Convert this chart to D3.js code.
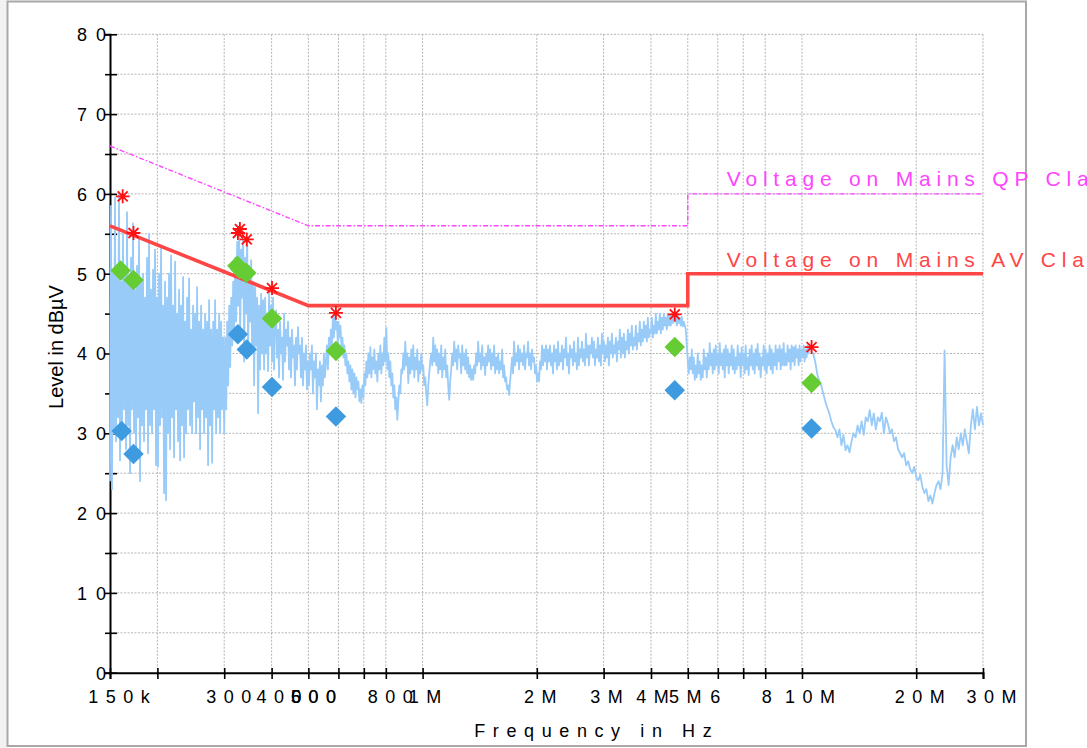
<!DOCTYPE html>
<html>
<head>
<meta charset="utf-8">
<script src="https://cdn.jsdelivr.net/npm/d3@7/dist/d3.min.js"></script>
<style>
  html, body { margin: 0; padding: 0; background: #ffffff; }
  svg { display: block; }
  text { font-family: "Liberation Sans", Arial, sans-serif; }
</style>
</head>
<body>
<svg id="chart" width="1087" height="748"></svg>
<script>
// ---- Axis ticks ----
const xTickValues = [150e3, 200e3, 300e3, 400e3, 500e3, 600e3, 700e3, 800e3, 1e6, 2e6, 3e6, 4e6, 5e6, 6e6, 7e6, 8e6, 10e6, 20e6, 30e6];
const xTickLabels = ["150k", "", "300", "400", "500", "600", "", "800", "1M", "2M", "3M", "4M", "5M", "6", "", "8", "10M", "20M", "30M"];
const yMajorTicks = [0, 10, 20, 30, 40, 50, 60, 70, 80];
const yTickLabels = ["0", "10", "20", "30", "40", "50", "60", "70", "80"];
const yMinorTicks = [5, 15, 25, 35, 45, 55, 65, 75];

// ---- Limit lines (dBµV) ----
const limitFreq = [150e3, 500e3, 5e6, 5e6, 30e6];
const qpLimitLevel = [66, 56, 56, 60, 60];
const avLimitLevel = [56, 46, 46, 50, 50];

// ---- Final measurement markers ----
const peakFreq  = [162e3, 173e3, 326e3, 330e3, 344e3, 401e3, 591e3, 4.62e6, 10.6e6];
const peakLevel = [59.7, 55.1, 55.1, 55.6, 54.3, 48.2, 45.1, 44.9, 40.8];
const qpFreq    = [160e3, 173e3, 325e3, 330e3, 343e3, 401e3, 591e3, 4.62e6, 10.6e6];
const qpLevel   = [50.4, 49.2, 51.0, 50.6, 50.1, 44.4, 40.3, 40.8, 36.3];
const avFreq    = [161e3, 173e3, 326e3, 344e3, 401e3, 591e3, 4.62e6, 10.6e6];
const avLevel   = [30.3, 27.4, 42.4, 40.5, 35.8, 32.1, 35.4, 30.6];

// ---- Pre-scan sweep: band edges (Hz) and readings (dBµV) per band ----
const sweepBands = [[150e3, 298e3], [300e3, 598e3], [600e3, 4.88e6], [4.94e6, 10.6e6], [10.7e6, 30e6]];
const sweepLevelsBand1 = [
  24, 58.5, 23, 50, 30, 59.5, 29, 51, 32, 60, 26.6, 49, 31, 55, 33, 50, 28, 57.7, 31, 49,
  25, 52, 33, 56.3, 30, 48, 27, 51, 32, 54.6, 24, 49, 31, 50, 29, 47, 33, 52, 27.5, 55,
  31, 48, 30, 50.5, 33, 53, 26, 47, 25.8, 50, 31, 53.2, 32, 46, 22.5, 49, 21.6, 47, 30, 50,
  28, 52.3, 32, 46, 27, 51.5, 33, 45, 29, 48, 26.6, 46, 31, 49.6, 27, 44, 30, 47, 33, 49.4,
  31, 43, 30, 46, 34, 45, 30, 48.3, 32, 44, 28, 46, 33, 43, 30, 45, 32, 44, 26, 46.7,
  31, 43, 26.3, 44, 33, 46.7, 30, 43, 32, 45, 30, 44, 33, 42
];
const sweepLevelsBand2 = [
  30, 42, 33, 44, 36, 46, 38.3, 47, 41, 49, 43, 52, 44, 54, 46, 55.5, 42, 53, 47, 55,
  39, 52, 45, 54.5, 40, 51, 44, 51.7, 40.4, 49, 36, 48.3, 41, 47, 32.5, 46, 38, 47.5, 40, 46.7,
  38, 47, 40, 45, 37.8, 48, 41, 46, 39, 47, 38, 44, 45.4, 39.5, 43, 37, 44, 40, 42, 36.7,
  45, 39, 43, 41, 44, 38, 42, 37, 43, 39.5, 41, 36, 42, 38, 43.3, 40, 41, 37, 42, 36,
  40, 38, 41, 35.5, 39, 36, 40, 38, 41, 35, 39, 37, 40, 33, 38, 36, 39, 34, 38.5, 36,
  40, 37, 39, 41, 38, 42, 40, 43, 41, 44.5, 42, 45, 43, 44, 41
];
const sweepLevelsBand3 = [
  44, 42, 43.5, 41, 42, 39.5, 41, 38.5, 40, 37.5, 39, 36.5, 38.5, 35.5, 38, 35, 37.5, 34.5, 37, 35.5,
  36.5, 34, 35.5, 33.8, 36, 34.5, 37.5, 36, 39, 37, 40, 37.5, 40.8, 37, 39.5, 38, 40.5, 37.5, 39, 36.5,
  40, 38, 41, 37.5, 40, 38.5, 42, 39, 43.2, 38, 40, 37, 39, 36, 37.5, 34.5, 36, 33, 34.5, 31.7,
  34, 36, 35, 38, 37.5, 40, 38, 41.5, 38.5, 40, 36.3, 39.5, 37.5, 40.5, 38, 41, 37, 39.5, 38, 40.5,
  36.5, 39, 37.5, 40, 38, 38.5, 36, 37, 35, 33.5, 36, 37.5, 39, 40, 38.5, 42, 39, 41, 38.5, 40.5,
  37.5, 40, 38, 41, 37, 39.5, 38, 40.5, 37, 38.5, 36, 34.2, 36.5, 38, 40, 38.5, 41.5, 39, 40.5, 38,
  41, 39.5, 40, 37.5, 41, 38.5, 40, 38, 40.5, 37.5, 39.5, 37, 38.5, 36.7, 38, 36.7, 38.5, 37.5, 40, 38.5,
  41.5, 39, 40, 38, 41, 38.5, 39.5, 37.3, 40, 38.5, 41, 39, 40.5, 38, 40, 38.5, 41, 37.5, 39.5, 38,
  40, 37.5, 39, 38, 40.5, 37, 38.5, 36.5, 37, 35.5, 36, 34.8, 36.5, 38, 39.5, 37.5, 41.5, 38.5, 40, 39,
  41, 38, 40.5, 39, 40, 38.5, 41, 38, 40, 39.5, 41.5, 38.5, 40, 38, 40.5, 39, 39.5, 37.5, 38.5, 36.5,
  37.5, 36.5, 39, 38, 41, 38.5, 40.5, 39, 41, 38, 40.5, 39, 41, 38.5, 40, 37.5, 41, 39, 40.5, 38,
  41.5, 38.5, 40, 39, 41, 38, 40.5, 39.5, 42, 38.5, 40, 37.5, 41, 39.5, 40.5, 38.5, 41.5, 39, 40, 38,
  42, 38.5, 40.5, 39.5, 41.5, 39, 40.5, 38.5, 42.5, 39.5, 41, 38.5, 41, 40, 42, 39.5, 41.5, 38.5, 40.5, 39.5,
  42, 39, 41, 38.5, 42.5, 40, 41.5, 39, 41, 39.5, 42, 38.5, 41.5, 40, 42.5, 39.5, 41, 40, 42, 39,
  41.5, 40.5, 43, 39.5, 42, 40, 42.5, 39.5, 41.5, 40.5, 43, 40, 42.5, 41, 43.5, 40.5, 42, 41, 43.5, 40.5,
  42.5, 41.5, 44, 41, 43, 41.5, 44, 42, 43.5, 41.5, 44.5, 42, 43, 42.5, 44.5, 42, 43.5, 42.5, 45, 42.5,
  44, 43, 45, 42.5, 44.5, 43, 45, 43.5, 44.5, 43, 45, 43.5, 44.8, 43.5, 45, 43.8, 44.5, 44, 45, 43.5,
  44.8, 43.8, 44.5, 43.5, 44.6, 43.4, 44
];
const sweepLevelsBand4 = [
  43, 41, 39, 37.5, 39.5, 38, 40.5, 37.5, 39.5, 36.7, 38.5, 37, 40, 37.5, 39, 36.7, 38.5, 37, 40.5, 38,
  39.5, 37, 40, 38, 41.3, 38.5, 40, 37.5, 40.5, 38, 41, 38.5, 40, 37.5, 41.3, 38.5, 40, 38, 40.5, 37,
  41, 38.5, 40.5, 37.5, 40, 38.5, 41, 38, 40.5, 37.5, 39.5, 38, 41, 38.5, 40, 37, 40.8, 38.5, 40, 37.5,
  41, 38, 39.5, 37.3, 40.5, 38.5, 41, 38, 40, 37.5, 40.5, 38.5, 41.2, 38, 40, 37, 39.5, 38.5, 41, 38,
  40.5, 37.5, 40, 38.5, 41, 38, 40.5, 37.5, 40, 38.5, 41, 38, 40.5, 39, 41, 38, 40.5, 38.5, 41.3, 38.5,
  40, 38.5, 41, 39, 40.5, 38, 41, 39, 40.8, 38.5, 41, 39.5, 40.5, 38.5, 41, 39, 40.5, 39.5, 41, 39,
  40.5, 39.5, 41, 40, 40.8, 40.5, 40.3
];
const sweepLevelsBand5 = [
  40, 39, 37.5, 36.5, 36, 35, 34, 33.2, 32.5, 31.5, 30.8, 30.4,
  29.5, 30.5, 28.5, 29.8, 27.9, 28.5, 27.6, 29,
  30, 29.5, 31, 30, 31.5, 29.8, 32,
  31.5, 32.9, 31, 32.5, 30.5, 32, 31.5, 32.6, 30, 32,
  31.2, 30, 30.5, 29, 29.5, 28, 27.5,
  27, 27.5, 26, 26.5, 25.5, 25, 25.8, 24.5, 24.1, 24.8,
  23.3, 22.5, 23, 21.5, 22.2, 21.2,
  22.5, 23.5, 24, 23, 25, 40.4, 26,
  23.5, 27, 28.5, 27, 29.5, 28, 30, 28.5, 30.5, 29, 27.5, 31,
  33, 30.5, 33.3, 31, 32.5, 31
];
const sweepLevels = [sweepLevelsBand1, sweepLevelsBand2, sweepLevelsBand3, sweepLevelsBand4, sweepLevelsBand5];

// Each band is swept with logarithmically spaced points between its edges
const trace = [];
sweepBands.forEach(([fStart, fStop], i) => {
  const lv = sweepLevels[i];
  const n = lv.length;
  lv.forEach((v, j) => {
    trace.push([fStart * Math.pow(fStop / fStart, j / (n - 1)), v]);
  });
});

// ---- Layout ----
const svg = d3.select("#chart");
const plotLeft = 110, plotRight = 983, plotTop = 34.3, plotBottom = 672.7;
const x = d3.scaleLog().domain([150e3, 30e6]).range([plotLeft, plotRight]);
const y = d3.scaleLinear().domain([0, 80]).range([plotBottom, plotTop]);

// outer frame
svg.append("rect").attr("x", 0).attr("y", 0).attr("width", 7).attr("height", 748).attr("fill", "#f2f2f2");
svg.append("rect")
  .attr("x", 7.5).attr("y", 1.5).attr("width", 1018.5).attr("height", 744.5)
  .attr("fill", "none").attr("stroke", "#a8a8a8").attr("stroke-width", 2);

// grid
const gridColor = "#b4b4b4";
const grid = svg.append("g");
grid.selectAll(".hg").data(yMajorTicks.concat(yMinorTicks).filter(d => d > 0)).join("line")
  .attr("x1", plotLeft).attr("x2", plotRight)
  .attr("y1", d => y(d)).attr("y2", d => y(d))
  .attr("stroke", gridColor).attr("stroke-width", 1).attr("stroke-dasharray", "2,1.5");
grid.selectAll(".vg").data(xTickValues.slice(1)).join("line")
  .attr("x1", d => x(d)).attr("x2", d => x(d))
  .attr("y1", plotTop).attr("y2", plotBottom)
  .attr("stroke", gridColor).attr("stroke-width", 1).attr("stroke-dasharray", "2,1.5");

// axes
const labelNudge = { "150k": 8.5, "300": 4, "400": 7, "500": 4.5, "600": -25.5, "800": 4, "1M": 2,
  "2M": 3, "3M": 2.5, "4M": 1, "5M": -3, "6": -3, "8": 1, "10M": 7.5, "20M": 3, "30M": 8 };
const xLetter = 7.5;
const xAxis = d3.axisBottom(x).tickValues(xTickValues)
  .tickFormat((d, i) => xTickLabels[i]).tickSize(6.3).tickPadding(0);
const gx = svg.append("g").attr("transform", `translate(0,${plotBottom})`).call(xAxis);
gx.select(".domain").attr("stroke", "#000").attr("stroke-width", 2);
gx.selectAll(".tick line").attr("y1", -4.7).attr("y2", 6.3).attr("stroke", "#000").attr("stroke-width", 1.6);
gx.selectAll(".tick text")
  .attr("y", 30).attr("dy", 0)
  .attr("dx", function () { const t = d3.select(this).text(); return (labelNudge[t] || 0) + xLetter / 2; })
  .attr("font-size", 18).attr("letter-spacing", xLetter)
  .attr("font-family", "Liberation Sans, Arial, sans-serif").attr("fill", "#000");

const yLetter = 9;
const yAxis = d3.axisLeft(y).tickValues(yMajorTicks.concat(yMinorTicks))
  .tickFormat(d => { const k = yMajorTicks.indexOf(d); return k >= 0 ? yTickLabels[k] : ""; })
  .tickSize(5).tickPadding(0);
const gy = svg.append("g").attr("transform", `translate(${plotLeft},0)`).call(yAxis);
gy.select(".domain").attr("stroke", "#000").attr("stroke-width", 2);
gy.selectAll(".tick line").attr("x1", -5).attr("x2", 7).attr("stroke", "#000").attr("stroke-width", 1.6);
gy.selectAll(".tick text")
  .attr("x", -4 + yLetter).attr("dy", "0.36em")
  .attr("font-size", 18).attr("letter-spacing", yLetter)
  .attr("font-family", "Liberation Sans, Arial, sans-serif").attr("fill", "#000");

// axis titles
svg.append("text")
  .attr("transform", "translate(63,347) rotate(-90)")
  .attr("text-anchor", "middle").attr("font-size", 20).attr("fill", "#000")
  .text("Level in dBµV");
svg.append("text")
  .attr("x", 593 + 3.8).attr("y", 737)
  .attr("text-anchor", "middle").attr("font-size", 18).attr("letter-spacing", 7.6).attr("fill", "#000")
  .text("Frequency in Hz");

// pre-scan trace
const line = d3.line().x(d => x(d[0])).y(d => y(d[1]));
svg.append("path").datum(trace)
  .attr("d", line).attr("fill", "none")
  .attr("stroke", "#99cbf9").attr("stroke-width", 1.8).attr("stroke-linejoin", "round");

// limit lines
const limitLine = lv => d3.line().x((d, i) => x(limitFreq[i])).y(d => y(d))(lv);
svg.append("path").attr("d", limitLine(qpLimitLevel))
  .attr("fill", "none").attr("stroke", "#ff44ff").attr("stroke-width", 1.4)
  .attr("stroke-dasharray", "5,2,1.5,2");
svg.append("path").attr("d", limitLine(avLimitLevel))
  .attr("fill", "none").attr("stroke", "#ff4646").attr("stroke-width", 3.6);

// limit labels
svg.append("text").attr("x", x(5e6) + 39).attr("y", y(60) - 8)
  .attr("font-size", 21).attr("letter-spacing", 5.8).attr("fill", "#ff44ff")
  .text("Voltage on Mains QP Class B");
svg.append("text").attr("x", x(5e6) + 39).attr("y", y(50) - 7)
  .attr("font-size", 21).attr("letter-spacing", 5.8).attr("fill", "#ff4646")
  .text("Voltage on Mains AV Class B");

// final measurement diamonds
const diamond = d3.symbol().type(d3.symbolSquare).size(210)();
svg.append("g").selectAll("path").data(avFreq).join("path")
  .attr("d", diamond)
  .attr("transform", (d, i) => `translate(${x(d)},${y(avLevel[i])}) rotate(45)`)
  .attr("fill", "#3f9be0");
svg.append("g").selectAll("path").data(qpFreq).join("path")
  .attr("d", diamond)
  .attr("transform", (d, i) => `translate(${x(d)},${y(qpLevel[i])}) rotate(45)`)
  .attr("fill", "#66cc33");

// peak asterisks
const star = "M0,-7L0,7M-7,0L7,0M-5,-5L5,5M-5,5L5,-5";
svg.append("g").selectAll("path").data(peakFreq).join("path")
  .attr("d", star)
  .attr("transform", (d, i) => `translate(${x(d)},${y(peakLevel[i])})`)
  .attr("fill", "none").attr("stroke", "#ff1010").attr("stroke-width", 1.8);
</script>
</body>
</html>
